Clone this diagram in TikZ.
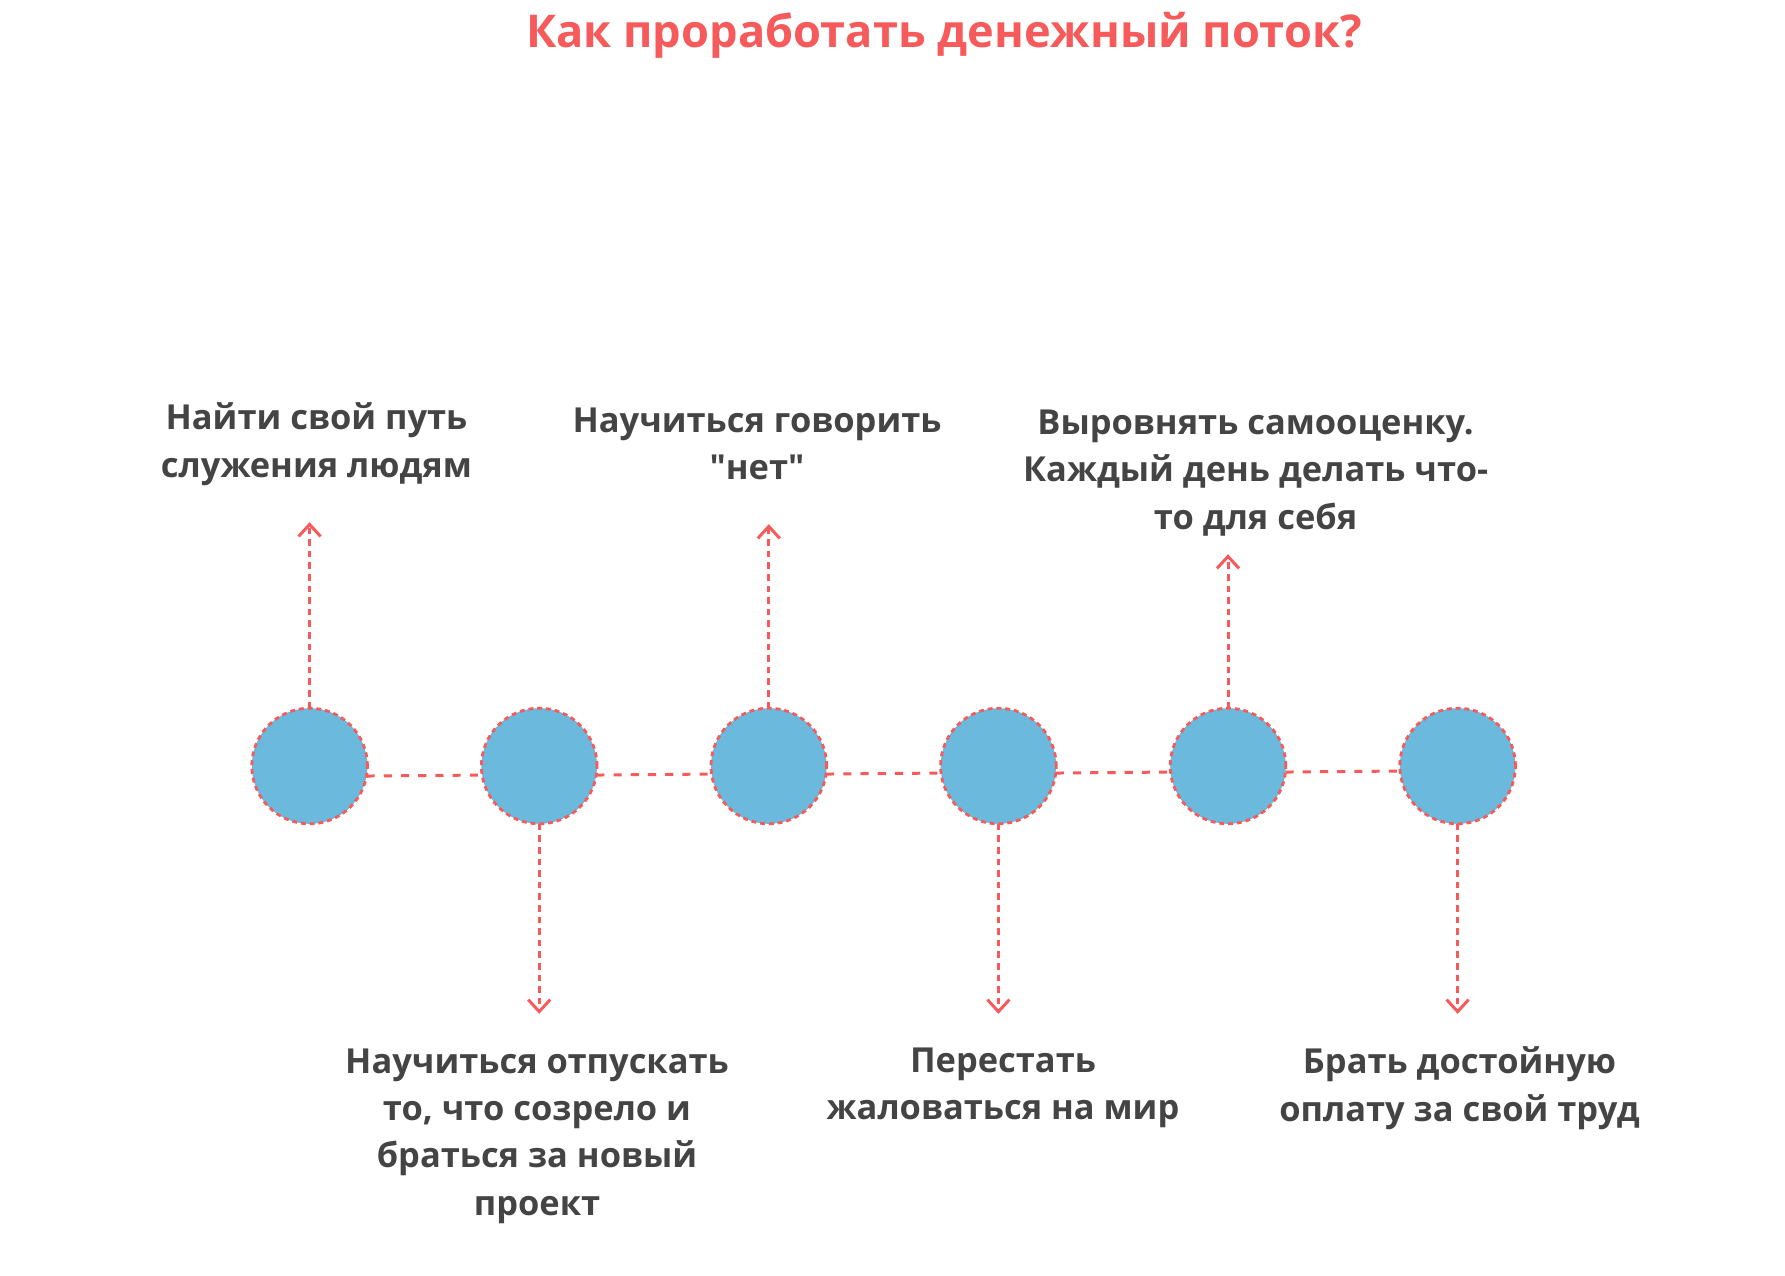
\documentclass[tikz,border=0pt]{standalone}
\usepackage{fontspec}
\setmainfont{Open Sans}[Ligatures=TeXOff]
\usepackage{xcolor}
\definecolor{flowred}{HTML}{F65A5A}
\definecolor{flowblue}{HTML}{6CB9DE}
\definecolor{flowtext}{HTML}{444444}
\usetikzlibrary{positioning,arrows.meta}

\begin{document}
\begin{tikzpicture}[
  node distance=1.14cm,
  dot/.style={circle, fill=flowblue, draw=flowred, line width=0.8pt,
              dash pattern=on 1.4pt off 1.1pt, minimum size=1.156cm,
              inner sep=0pt, outer sep=0pt},
  link/.style={flowred, line width=0.85pt, dash pattern=on 2.3pt off 2.6pt},
  pointer/.style={-{Straight Barb[length=1.2mm, width=2.2mm]}, flowred,
                  line width=0.85pt, dash pattern=on 1.9pt off 1.4pt},
  note/.style={align=center, text=flowtext, inner sep=0pt,
               font=\bfseries\fontsize{9.8}{13.5}\selectfont},
]
  \useasboundingbox (0,0) rectangle (17.85,12.75);

  % title
  \node[text=flowred, font=\bfseries\fontsize{12.85}{16}\selectfont] (title)
    at (9.44,12.40) {Как проработать денежный поток?};

  % circles
  \node[dot] (c1) at (3.096,5.09) {};
  \node[dot, right=of c1] (c2) {};
  \node[dot, right=of c2] (c3) {};
  \node[dot, right=of c3] (c4) {};
  \node[dot, right=of c4] (c5) {};
  \node[dot, right=of c5] (c6) {};

  % links between circles
  \draw[link] (c1.-10) -- (c2.-171);
  \draw[link] (c2.-9)  -- (c3.-172);
  \draw[link] (c3.-8)  -- (c4.-173);
  \draw[link] (c4.-7)  -- (c5.-174);
  \draw[link] (c5.-6)  -- (c6.-175);

  % arrow ends
  \coordinate[above=1.86cm of c1.north] (c1tip);
  \coordinate[below=1.90cm of c2.south] (c2tip);
  \coordinate[above=1.84cm of c3.north] (c3tip);
  \coordinate[below=1.90cm of c4.south] (c4tip);
  \coordinate[above=1.54cm of c5.north] (c5tip);
  \coordinate[below=1.90cm of c6.south] (c6tip);

  % arrows
  \draw[pointer] (c1.north) -- (c1tip);
  \draw[pointer] (c2.south) -- (c2tip);
  \draw[pointer] (c3.north) -- (c3tip);
  \draw[pointer] (c4.south) -- (c4tip);
  \draw[pointer] (c5.north) -- (c5tip);
  \draw[pointer] (c6.south) -- (c6tip);

  % labels
  \node[note] (n1) at (3.165,8.31) {Найти свой путь\\служения людям};
  \node[note] (n2) at (5.37,1.39) {Научиться отпускать\\то, что созрело и\\браться за новый\\проект};
  \node[note] (n3) at (7.57,8.31) {Научиться говорить\\"нет"};
  \node[note] (n4) at (10.03,1.87) {Перестать\\жаловаться на мир};
  \node[note] (n5) at (12.556,8.02) {Выровнять самооценку.\\Каждый день делать что-\\то для себя};
  \node[note] (n6) at (14.595,1.87) {Брать достойную\\оплату за свой труд};
\end{tikzpicture}
\end{document}
